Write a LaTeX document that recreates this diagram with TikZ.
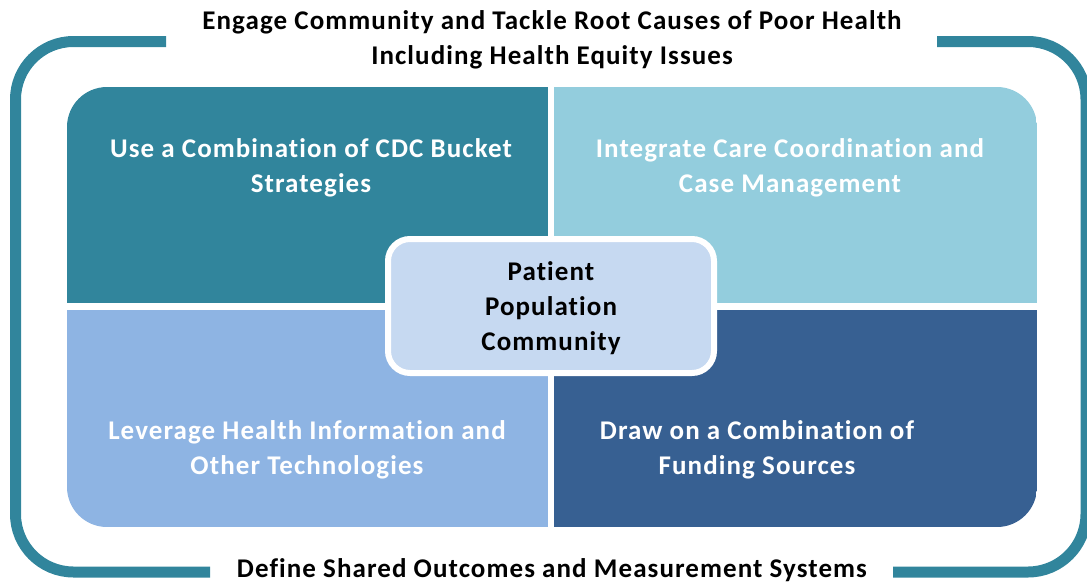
\documentclass[tikz,border=0pt]{standalone}
\usepackage{fontspec}
\setmainfont{Carlito}[Ligatures=NoCommon, LetterSpace=4]
\usepackage{tikz}
\definecolor{frameteal}{HTML}{31859C}
\definecolor{tealdark}{HTML}{31859C}
\definecolor{tealsoft}{HTML}{93CDDD}
\definecolor{bluesoft}{HTML}{8EB4E3}
\definecolor{bluedark}{HTML}{376092}
\definecolor{corefill}{HTML}{C6D9F1}

\begin{document}
\begin{tikzpicture}
[
    x = 1pt, y = -1pt,
    frame/.style = {draw = frameteal, line width = 11pt, rounded corners = 58pt},
    label/.style = {font = \fontsize{27}{35}\selectfont\bfseries, align = center, inner sep = 0pt},
    quadtext/.style = {label, text = white},
    core/.style = {label, text = black, fill = corefill, draw = white, line width = 6pt,
                   rounded corners = 22pt, minimum width = 326pt, minimum height = 134pt},
]
\useasboundingbox (0,0) rectangle (1087,584);

% outer frame, split by the two headings
\draw[frame] (166,41.5) -- (15.5,41.5) -- (15.5,572) -- (210,572);
\draw[frame] (937,41.5) -- (1086,41.5) -- (1086,572) -- (893,572);

% the four quadrants
\begin{scope}
    \clip[rounded corners = 40pt] (67,87) rectangle (1037,527);
    \fill[tealdark] (67,87) rectangle (548,302.5);
    \fill[tealsoft] (554,87) rectangle (1037,302.5);
    \fill[bluesoft] (67,310) rectangle (548,527);
    \fill[bluedark] (554,310) rectangle (1037,527);
\end{scope}

\node[label] (title) at (552,40) {Engage Community and Tackle Root Causes of Poor Health\\Including Health Equity Issues};
\node[label] (footer) at (552,570.5) {Define Shared Outcomes and Measurement Systems};

\node[quadtext] (bucket) at (311,168) {Use a Combination of CDC Bucket\\Strategies};
\node[quadtext] (care) at (790,168) {Integrate Care Coordination and\\Case Management};
\node[quadtext] (tech) at (307,450) {Leverage Health Information and\\Other Technologies};
\node[quadtext] (funding) at (757,450) {Draw on a Combination of\\Funding Sources};

\node[core] (patient) at (551,306) {};
\node[label] (patienttext) at (551,308.5) {Patient\\Population\\Community};
\end{tikzpicture}
\end{document}
